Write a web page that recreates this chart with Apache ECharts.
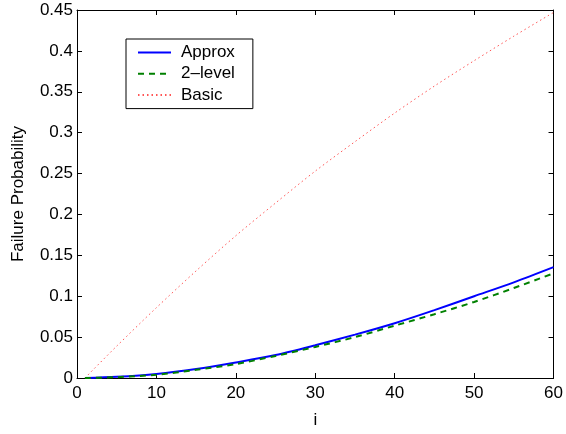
<!DOCTYPE html>
<html>
<head>
<meta charset="utf-8">
<script src="https://cdn.jsdelivr.net/npm/echarts@6/dist/echarts.min.js"></script>
<style>
  html, body { margin: 0; padding: 0; background: #fff; }
  #chart { width: 566px; height: 434px; }
</style>
</head>
<body>
<div id="chart"></div>
<script>
// i values (sample points)
const iValues = [1, 5, 10, 15, 20, 25, 30, 35, 40, 45, 50, 55, 60];
const approx = [0, 0.0015, 0.005, 0.011, 0.019, 0.028, 0.040, 0.053, 0.067, 0.083, 0.100, 0.117, 0.1355];
const twoLevel = [0, 0.001, 0.004, 0.010, 0.017, 0.027, 0.038, 0.050, 0.064, 0.078, 0.093, 0.110, 0.128];
const basic = [0, 0.039, 0.086, 0.131, 0.174, 0.214, 0.253, 0.289, 0.324, 0.357, 0.388, 0.418, 0.447];

const font = "'Liberation Sans', Arial, Helvetica, sans-serif";

function pairs(ys) {
  return iValues.map((x, k) => [x, ys[k]]);
}

const chart = echarts.init(document.getElementById("chart"));

const boxAxis = {
  axisLine: { show: true, onZero: false, lineStyle: { color: "#000", width: 1 } },
  axisTick: { show: true, inside: true, length: 5, lineStyle: { color: "#000" } },
  splitLine: { show: false }
};

chart.setOption({
  animation: false,
  backgroundColor: "#fff",
  textStyle: { fontFamily: font },
  grid: { left: 77, right: 10, top: 10, bottom: 48 },
  legend: {
    orient: "vertical",
    left: 126,
    top: 39,
    padding: [5, 18, 5, 11],
    itemWidth: 33,
    itemHeight: 18,
    itemGap: 4.3,
    borderColor: "#000",
    borderWidth: 1,
    backgroundColor: "#fff",
    itemStyle: { opacity: 0 },
    textStyle: { fontFamily: font, fontSize: 17, color: "#000", padding: [0, 0, 0, 5] },
    data: ["Approx", "2\u2013level", "Basic"]
  },
  xAxis: [
    Object.assign({}, boxAxis, {
      type: "value",
      min: 0,
      max: 60,
      interval: 10,
      name: "i",
      nameLocation: "middle",
      nameGap: 34,
      nameTextStyle: { fontFamily: font, fontSize: 17, color: "#000" },
      axisLabel: { fontFamily: font, fontSize: 17, color: "#000", margin: 7 }
    }),
    Object.assign({}, boxAxis, {
      type: "value",
      position: "top",
      min: 0,
      max: 60,
      interval: 10,
      axisLabel: { show: false }
    })
  ],
  yAxis: [
    Object.assign({}, boxAxis, {
      type: "value",
      min: 0,
      max: 0.45,
      interval: 0.05,
      name: "Failure Probability",
      nameLocation: "middle",
      nameGap: 50,
      nameTextStyle: { fontFamily: font, fontSize: 17, color: "#000" },
      axisLabel: { fontFamily: font, fontSize: 17, color: "#000", margin: 4 }
    }),
    Object.assign({}, boxAxis, {
      type: "value",
      position: "right",
      min: 0,
      max: 0.45,
      interval: 0.05,
      axisLabel: { show: false }
    })
  ],
  series: [
    {
      name: "Approx",
      type: "line",
      data: pairs(approx),
      smooth: 0.3,
      symbol: "none",
      lineStyle: { color: "#0000ff", width: 2 },
      itemStyle: { color: "#0000ff" },
      z: 3
    },
    {
      name: "2\u2013level",
      type: "line",
      data: pairs(twoLevel),
      smooth: 0.3,
      symbol: "none",
      lineStyle: { color: "#008000", width: 2, type: [6, 5] },
      itemStyle: { color: "#008000" },
      z: 4
    },
    {
      name: "Basic",
      type: "line",
      data: pairs(basic),
      smooth: 0.3,
      symbol: "none",
      lineStyle: { color: "#ff5555", width: 1, type: [1.5, 3] },
      itemStyle: { color: "#ff5555" },
      z: 2
    }
  ]
});
</script>
</body>
</html>
